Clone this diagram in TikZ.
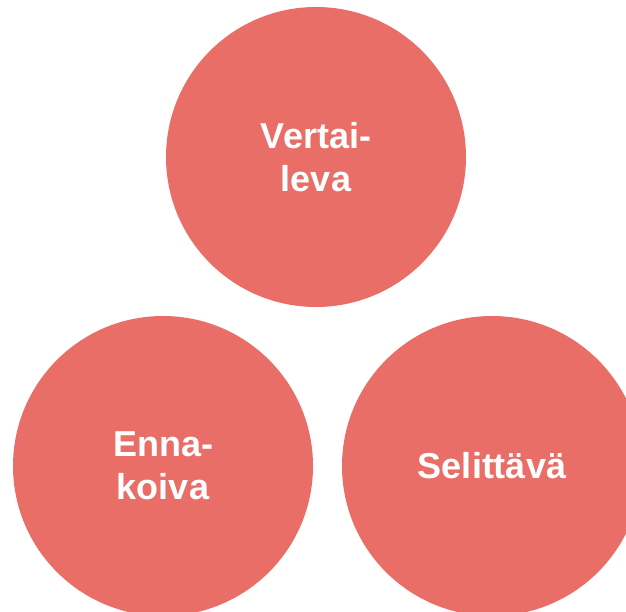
\documentclass[tikz,border=0pt]{standalone}
\usepackage{fontspec}
\setmainfont{Liberation Sans}
\definecolor{coral}{HTML}{E96E68}
\begin{document}
\begin{tikzpicture}[
    x=1pt, y=-1pt,
    font=\bfseries\fontsize{36}{43}\selectfont,
    tyyppi/.style={circle, fill=coral, minimum size=300pt, inner sep=0pt,
                   text=white, align=center}
]
    % Kehys
    \clip (0,0) rectangle (626,612);
    \fill[white] (0,0) rectangle (626,612);

    % Ympyrat
    \node[tyyppi] (vertaileva) at (316,157) {Vertai-\\leva};
    \node[tyyppi] (ennakoiva) at (163,466) {Enna-\\koiva};
    \node[tyyppi] (selittava) at (492,466) {Selittävä};
\end{tikzpicture}
\end{document}
